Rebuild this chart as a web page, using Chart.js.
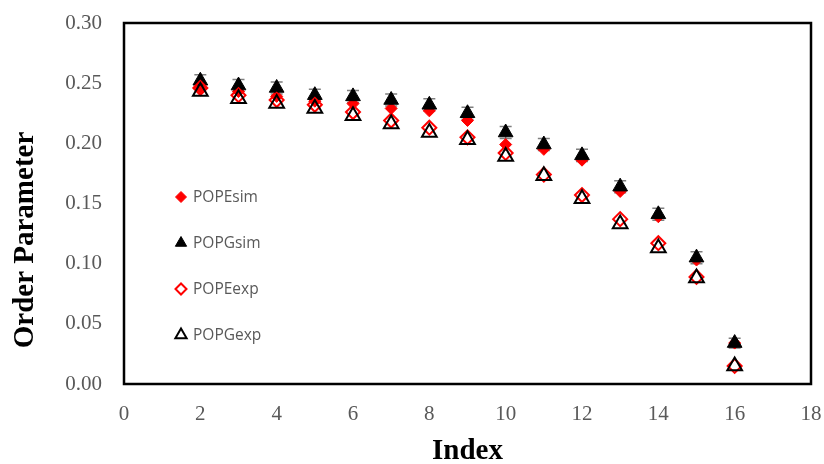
<!DOCTYPE html>
<html>
<head>
<meta charset="utf-8">
<script src="https://cdn.jsdelivr.net/npm/chart.js@4.4.1/dist/chart.umd.min.js"></script>
<style>
  html, body { margin: 0; padding: 0; background: #fff; }
  #wrap { width: 824px; height: 464px; position: relative; }
</style>
</head>
<body>
<div id="wrap"><canvas id="chart"></canvas></div>
<script>
// values
const indices    = [2, 3, 4, 5, 6, 7, 8, 9, 10, 11, 12, 13, 14, 15, 16];
const popeSim    = [0.246, 0.243, 0.239, 0.235, 0.233, 0.229, 0.227, 0.219, 0.199, 0.195, 0.186, 0.160, 0.139, 0.103, 0.034];
const popgSim    = [0.252, 0.248, 0.246, 0.240, 0.239, 0.236, 0.232, 0.225, 0.209, 0.199, 0.190, 0.164, 0.141, 0.105, 0.034];
const popgSimErr = [0.005, 0.005, 0.005, 0.005, 0.005, 0.005, 0.005, 0.005, 0.005, 0.005, 0.005, 0.005, 0.005, 0.005, 0.004];
const popeExp    = [0.246, 0.240, 0.236, 0.232, 0.226, 0.219, 0.213, 0.205, 0.192, 0.174, 0.157, 0.137, 0.117, 0.089, 0.015];
const popgExp    = [0.243, 0.237, 0.233, 0.229, 0.223, 0.216, 0.209, 0.203, 0.189, 0.173, 0.154, 0.133, 0.113, 0.088, 0.015];
const xTicks = [0, 2, 4, 6, 8, 10, 12, 14, 16, 18];
const yTicks = [0, 0.05, 0.10, 0.15, 0.20, 0.25, 0.30];

const toPoints = (ys) => indices.map((x, i) => ({x: x, y: ys[i]}));

const RED = '#ff0000';
const BLACK = '#000000';
const SERIF = '"Liberation Serif", "Times New Roman", serif';
const SANS = '"Open Sans", "Noto Sans", sans-serif';

// keep label overflow from shrinking the plot area
const noScalePadding = (scale) => {
    scale.paddingTop = 0;
    scale.paddingBottom = 0;
    scale.paddingLeft = 0;
    scale.paddingRight = 0;
};

// gray error bars on the simulated POPG series, under the markers
const errorBars = {
    id: 'errorBars',
    beforeDatasetsDraw(chart) {
        const {ctx, scales: {x, y}} = chart;
        ctx.save();
        ctx.strokeStyle = '#7f7f7f';
        ctx.lineWidth = 1.5;
        indices.forEach((ix, i) => {
            const px = x.getPixelForValue(ix);
            const top = y.getPixelForValue(popgSim[i] + popgSimErr[i]);
            const bot = y.getPixelForValue(popgSim[i] - popgSimErr[i]);
            ctx.beginPath();
            ctx.moveTo(px, top);
            ctx.lineTo(px, bot);
            ctx.moveTo(px - 6, top);
            ctx.lineTo(px + 6, top);
            ctx.moveTo(px - 6, bot);
            ctx.lineTo(px + 6, bot);
            ctx.stroke();
        });
        ctx.restore();
    }
};

// plot border, y title (sits below centre in the original) and the inner legend
const frameAndLegend = {
    id: 'frameAndLegend',
    afterDraw(chart) {
        const {ctx, chartArea: a} = chart;
        ctx.save();
        ctx.strokeStyle = '#000';
        ctx.lineWidth = 2.5;
        ctx.strokeRect(a.left, a.top, a.right - a.left, a.bottom - a.top);

        ctx.save();
        ctx.translate(26, 240);
        ctx.rotate(-Math.PI / 2);
        ctx.font = 'bold 29px ' + SERIF;
        ctx.fillStyle = '#000';
        ctx.textAlign = 'center';
        ctx.textBaseline = 'middle';
        ctx.fillText('Order Parameter', 0, 0);
        ctx.restore();

        ctx.font = '15.5px ' + SANS;
        ctx.textBaseline = 'middle';
        chart.data.datasets.forEach((ds, k) => {
            const cy = a.top + 174 + k * 46;
            const mx = a.left + 57;
            ctx.save();
            ctx.fillStyle = ds.pointBackgroundColor;
            ctx.strokeStyle = ds.pointBorderColor;
            ctx.lineWidth = ds.pointBorderWidth;
            Chart.helpers.drawPoint(ctx, {
                pointStyle: ds.pointStyle,
                radius: ds.pointStyle === 'triangle' ? 6.5 : 5.5,
                rotation: 0,
                borderWidth: ds.pointBorderWidth
            }, mx, cy);
            ctx.restore();
            ctx.fillStyle = '#595959';
            ctx.fillText(ds.label, mx + 12, cy + 1);
        });
        ctx.restore();
    }
};

new Chart(document.getElementById('chart'), {
    type: 'scatter',
    data: {
        datasets: [
            {
                label: 'POPEsim',
                data: toPoints(popeSim),
                pointStyle: 'rectRot',
                pointRadius: 6,
                pointBackgroundColor: RED,
                pointBorderColor: RED,
                pointBorderWidth: 1,
                order: 3
            },
            {
                label: 'POPGsim',
                data: toPoints(popgSim),
                pointStyle: 'triangle',
                pointRadius: 8.5,
                pointBackgroundColor: BLACK,
                pointBorderColor: BLACK,
                pointBorderWidth: 1,
                order: 2
            },
            {
                label: 'POPEexp',
                data: toPoints(popeExp),
                pointStyle: 'rectRot',
                pointRadius: 7,
                pointBackgroundColor: 'rgba(0,0,0,0)',
                pointBorderColor: RED,
                pointBorderWidth: 2,
                order: 1
            },
            {
                label: 'POPGexp',
                data: toPoints(popgExp),
                pointStyle: 'triangle',
                pointRadius: 8.5,
                pointBackgroundColor: 'rgba(0,0,0,0)',
                pointBorderColor: BLACK,
                pointBorderWidth: 2,
                order: 0
            }
        ]
    },
    options: {
        responsive: true,
        maintainAspectRatio: false,
        animation: false,
        layout: {padding: {top: 23, right: 13, left: 0, bottom: 0}},
        plugins: {
            legend: {display: false},
            tooltip: {enabled: false}
        },
        scales: {
            x: {
                type: 'linear',
                min: 0,
                max: 18,
                afterBuildTicks: (scale) => { scale.ticks = xTicks.map(v => ({value: v})); },
                afterFit: (scale) => { scale.height = 80; noScalePadding(scale); },
                grid: {display: false, drawTicks: false},
                border: {display: false},
                ticks: {
                    padding: 18,
                    color: '#595959',
                    font: {family: SERIF, size: 21},
                    maxRotation: 0
                },
                title: {
                    display: true,
                    text: 'Index',
                    color: '#000',
                    font: {family: SERIF, size: 29, weight: 'bold', lineHeight: 0.85},
                    padding: {bottom: 0}
                }
            },
            y: {
                type: 'linear',
                min: 0,
                max: 0.30,
                afterBuildTicks: (scale) => { scale.ticks = yTicks.map(v => ({value: v})); },
                afterFit: (scale) => { scale.width = 124; noScalePadding(scale); },
                grid: {display: false, drawTicks: false},
                border: {display: false},
                ticks: {
                    padding: 22,
                    color: '#595959',
                    font: {family: SERIF, size: 21},
                    callback: (v) => v.toFixed(2)
                },
                title: {display: false}
            }
        }
    },
    plugins: [errorBars, frameAndLegend]
});
</script>
</body>
</html>
